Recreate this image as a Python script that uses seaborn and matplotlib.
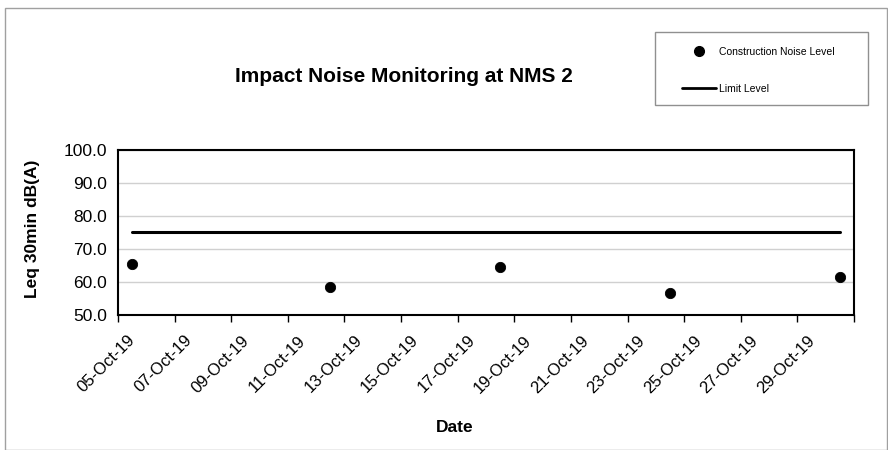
import matplotlib
matplotlib.use("Agg")
import matplotlib.pyplot as plt
from matplotlib.lines import Line2D
from matplotlib.patches import Rectangle
from matplotlib.transforms import ScaledTranslation
import pandas as pd
import seaborn as sns

# data
dates = ["2019-10-05", "2019-10-12", "2019-10-18", "2019-10-24", "2019-10-30"]
noise_levels = [65.6, 58.6, 64.5, 56.6, 61.5]
limit_level = [75.0, 75.0, 75.0, 75.0, 75.0]
y_ticks = [50, 60, 70, 80, 90, 100]

df = pd.DataFrame({
    "date": pd.to_datetime(dates) + pd.Timedelta(hours=12),  # Excel puts points mid-day
    "noise": noise_levels,
    "limit": limit_level,
})

sns.set_theme(style="white")
plt.rcParams["font.family"] = ["Liberation Sans", "DejaVu Sans"]
for key in ["text.color", "axes.labelcolor", "xtick.color", "ytick.color"]:
    plt.rcParams[key] = "black"

W, H = 888, 450
fig = plt.figure(figsize=(8.88, 4.5), dpi=100)
ax = fig.add_axes([118 / W, 1 - 315 / H, 736 / W, 165 / H])

sns.lineplot(data=df, x="date", y="limit", ax=ax, color="black", linewidth=2.2)
sns.scatterplot(data=df, x="date", y="noise", ax=ax, color="black", s=55, edgecolor="black")

ax.set_ylim(50, 100)
ax.set_yticks(y_ticks)
ax.set_yticklabels([f"{v:.1f}" for v in y_ticks], fontsize=12.5)
ax.yaxis.grid(True, color="#d0d0d0", linewidth=1)

ax.set_xlim(pd.Timestamp("2019-10-05"), pd.Timestamp("2019-10-31"))
tick_dates = pd.date_range("2019-10-05", "2019-10-31", freq="2D")
ax.set_xticks(tick_dates)
ax.set_xticklabels([d.strftime("%d-%b-%y") if d < pd.Timestamp("2019-10-31") else "" for d in tick_dates],
                   rotation=45, ha="right", va="center", rotation_mode="anchor", fontsize=12)
ax.tick_params(axis="x", direction="out", length=5, width=1, color="black", bottom=True, pad=11.5)
ax.tick_params(axis="y", length=0, pad=8)
shift = ScaledTranslation(0.15, 0, fig.dpi_scale_trans)
for lab in ax.get_xticklabels():
    lab.set_transform(lab.get_transform() + shift)

for sp in ax.spines.values():
    sp.set_color("black")
    sp.set_linewidth(1.5)

ax.set_xlabel("Date", fontsize=12.5, fontweight="bold")
ax.xaxis.set_label_coords(0.457, -0.636)
ax.set_ylabel("Leq 30min dB(A)", fontsize=12.5, fontweight="bold")
ax.yaxis.set_label_coords(-0.106, 0.52)

fig.text(404 / W, 1 - 77 / H, "Impact Noise Monitoring at NMS 2", ha="center", va="center",
         fontsize=15, fontweight="bold")

# chart area border
fig.add_artist(Rectangle((5 / W, 0), 882 / W, 442 / H, transform=fig.transFigure,
                         fill=False, edgecolor="#a0a0a0", linewidth=1))

# legend frame drawn separately, entries placed inside
fig.add_artist(Rectangle((655 / W, 1 - 105 / H), 213 / W, 73 / H, transform=fig.transFigure,
                         fill=True, facecolor="white", edgecolor="#909090", linewidth=1))
handles = [
    Line2D([], [], marker="o", color="black", linestyle="none", markersize=7),
    Line2D([], [], color="black", linewidth=2),
]
leg = fig.legend(handles, ["Construction Noise Level", "Limit Level"],
                 loc="upper left", bbox_to_anchor=(682 / W, 1 - 47 / H),
                 fontsize=7.5, frameon=False, labelspacing=2.6,
                 handlelength=3.3, handletextpad=0.25, borderpad=0, borderaxespad=0)

fig.savefig("out.png", dpi=100)
